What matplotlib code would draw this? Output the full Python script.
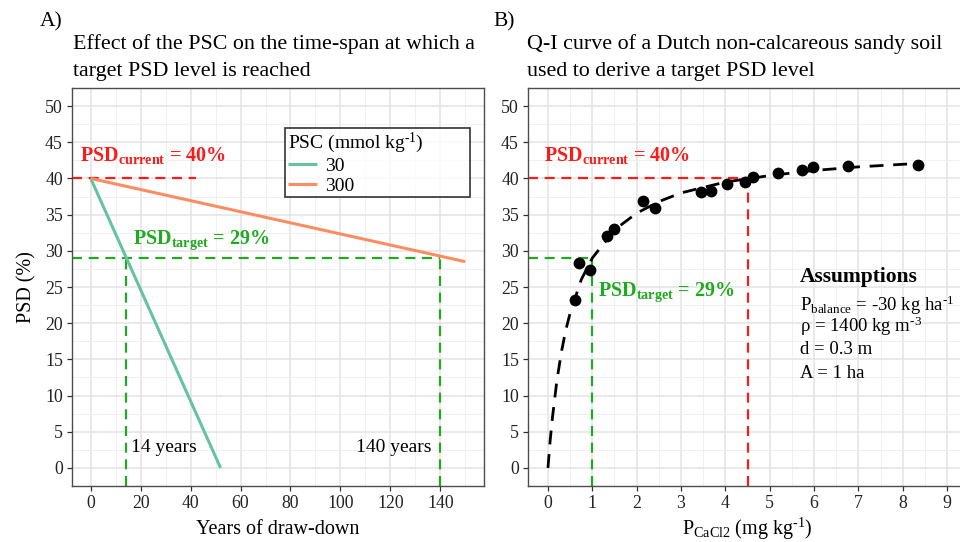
import numpy as np
import matplotlib
matplotlib.use("Agg")
import matplotlib.pyplot as plt
from matplotlib.ticker import MultipleLocator

plt.rcParams['font.family'] = ['Liberation Serif', 'DejaVu Serif']
plt.rcParams['mathtext.fontset'] = 'custom'
plt.rcParams['mathtext.rm'] = 'Liberation Serif'
plt.rcParams['mathtext.it'] = 'Liberation Serif:italic'
plt.rcParams['mathtext.bf'] = 'Liberation Serif:bold'

# ---- panel A data: draw-down lines per PSC level
psc_levels = ['30', '300']
psc_colors = ['#66c2a5', '#fc8d62']
years_30 = [0, 52]
psd_30 = [40, 0]
years_300 = [0, 150]
psd_300 = [40, 28.5]

psd_current = 40
psd_target = 29
years_to_target = [14, 140]
year_labels = ['14 years', '140 years']

# ---- panel B data: Q-I measurements and fitted curve
p_cacl2 = [0.61, 0.69, 0.95, 1.34, 1.50, 2.14, 2.42, 3.45, 3.68, 4.03,
           4.44, 4.63, 5.19, 5.74, 5.97, 6.77, 8.35]
psd_obs = [23.2, 28.3, 27.3, 32.1, 33.0, 36.9, 35.9, 38.1, 38.3, 39.2,
           39.5, 40.2, 40.7, 41.1, 41.6, 41.75, 41.9]
curve_p = [0, 0.05, 0.1, 0.2, 0.3, 0.4, 0.5, 0.75, 1.0, 1.5, 2.0, 2.5,
           3.0, 4.0, 5.0, 6.0, 7.0, 8.4]
curve_psd = [0, 3.8, 6.9, 12.0, 15.9, 19.0, 21.4, 26.0, 29.0, 32.9, 35.2,
             36.8, 38.0, 39.5, 40.4, 41.1, 41.6, 42.1]
p_current = 4.5
p_target = 1.0

RED = '#ff1a1a'
GREEN = '#1faa1f'
dash = (0, (4.5, 3))
SUP_M1 = r'$^{\text{-1}}$'
SUP_M3 = r'$^{\text{-3}}$'

W, H = 960, 542
fig = plt.figure(figsize=(W / 100, H / 100), dpi=100)
axA = fig.add_axes([72 / W, 56 / H, 412 / W, 398 / H])
axB = fig.add_axes([528 / W, 56 / H, 439 / W, 398 / H])


def style(ax):
    ax.set_facecolor('white')
    ax.set_axisbelow(True)
    ax.grid(which='major', color='#e3e3e3', lw=1.1)
    ax.grid(which='minor', color='#eeeeee', lw=0.6)
    for s in ax.spines.values():
        s.set_color('#4d4d4d')
        s.set_linewidth(1.0)
    ax.tick_params(which='major', length=3.5, width=0.9, color='#333333',
                   labelsize=12.8, labelcolor='#222222', pad=3)
    ax.tick_params(which='minor', length=0)
    ax.set_ylim(-2.5, 52.5)
    ax.yaxis.set_major_locator(MultipleLocator(5))
    ax.yaxis.set_minor_locator(MultipleLocator(2.5))


def psd_label(ax, x, y, sub, val, color):
    ax.text(x, y, 'PSD$_{\\mathbf{' + sub + '}}$ = ' + val, color=color,
            fontsize=14.5, fontweight='bold', va='center', ha='left')


# ---------------- Panel A ----------------
style(axA)
axA.set_xlim(-7.5, 157.5)
axA.xaxis.set_major_locator(MultipleLocator(20))
axA.xaxis.set_minor_locator(MultipleLocator(10))

axA.plot([-7.5, 42], [psd_current, psd_current], color=RED, lw=1.6, ls=dash)
axA.plot([-7.5, years_to_target[1]], [psd_target, psd_target], color=GREEN, lw=1.6, ls=dash)
for yr in years_to_target:
    axA.plot([yr, yr], [-2.5, psd_target], color=GREEN, lw=1.6, ls=dash)

axA.plot(years_30, psd_30, color=psc_colors[0], lw=2.2, label=psc_levels[0], solid_capstyle='butt')
axA.plot(years_300, psd_300, color=psc_colors[1], lw=2.2, label=psc_levels[1], solid_capstyle='butt')

psd_label(axA, -4.3, 43.2, 'current', '40%', RED)
psd_label(axA, 17, 31.5, 'target', '29%', GREEN)
axA.text(years_to_target[0] + 2.3, 2.8, year_labels[0], fontsize=14, va='center', ha='left')
axA.text(years_to_target[1] - 3.5, 2.8, year_labels[1], fontsize=14, va='center', ha='right')

leg = axA.legend(title='PSC (mmol kg' + SUP_M1 + ')', loc='upper left',
                 bbox_to_anchor=(0.517, 0.706, 0.449, 0.193), mode='expand',
                 fontsize=14, title_fontsize=14, frameon=True, fancybox=False,
                 handlelength=1.5, handletextpad=0.4, labelspacing=0.1,
                 borderpad=0.15, borderaxespad=0)
leg._legend_box.align = 'left'
leg.get_frame().set_edgecolor('black')
leg.get_frame().set_linewidth(1.2)

axA.set_xlabel('Years of draw-down', fontsize=14.5, labelpad=6)
axA.set_ylabel('PSD (%)', fontsize=14.5, labelpad=6)

# ---------------- Panel B ----------------
style(axB)
axB.set_xlim(-0.45, 9.45)
axB.xaxis.set_major_locator(MultipleLocator(1))
axB.xaxis.set_minor_locator(MultipleLocator(0.5))

axB.plot([-0.45, p_current], [psd_current, psd_current], color=RED, lw=1.6, ls=dash)
axB.plot([p_current, p_current], [-2.5, psd_current], color=RED, lw=1.6, ls=dash)
axB.plot([-0.45, p_target], [psd_target, psd_target], color=GREEN, lw=1.6, ls=dash)
axB.plot([p_target, p_target], [-2.5, psd_target], color=GREEN, lw=1.6, ls=dash)

axB.plot(curve_p, curve_psd, color='black', lw=2.0, ls=(0, (5, 3.5)))
axB.scatter(p_cacl2, psd_obs, s=72, color='black', zorder=5, linewidths=0)

psd_label(axB, -0.1, 43.2, 'current', '40%', RED)
psd_label(axB, 1.13, 24.3, 'target', '29%', GREEN)

axB.text(5.68, 26.4, 'Assumptions', fontsize=15.5, fontweight='bold', va='center', ha='left')
assump = ['P$_{\\mathrm{balance}}$ = -30 kg ha' + SUP_M1,
          'ρ = 1400 kg m' + SUP_M3,
          'd = 0.3 m',
          'A = 1 ha']
assump_y = [22.5, 19.5, 16.3, 13.1]
for t, y in zip(assump, assump_y):
    axB.text(5.68, y, t, fontsize=13.5, va='center', ha='left')

axB.set_xlabel('P$_{\\mathrm{CaCl2}}$ (mg kg' + SUP_M1 + ')', fontsize=14.5, labelpad=3)

# ---------------- titles ----------------
fig.text(40 / W, 1 - 22 / H, 'A)', fontsize=15.5, va='center', ha='left')
fig.text(73 / W, 1 - 57.5 / H, 'Effect of the PSC on the time-span at which a\ntarget PSD level is reached',
         fontsize=15.8, va='center', ha='left', linespacing=1.6)
fig.text(493 / W, 1 - 22 / H, 'B)', fontsize=15.5, va='center', ha='left')
fig.text(527 / W, 1 - 57.5 / H, 'Q-I curve of a Dutch non-calcareous sandy soil\nused to derive a target PSD level',
         fontsize=15.8, va='center', ha='left', linespacing=1.6)

fig.savefig('out.png', dpi=100, facecolor='white')
